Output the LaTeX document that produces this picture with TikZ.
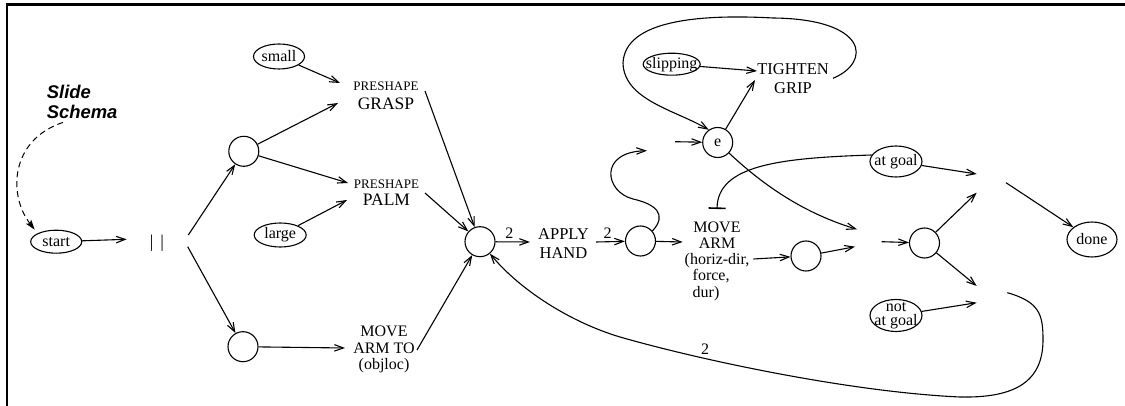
\documentclass[tikz,border=0pt]{standalone}
\usepackage{fontspec}
\setmainfont{Liberation Serif}
\newfontfamily\headfont{Liberation Sans}
\usetikzlibrary{arrows.meta,calc,shapes.geometric}

\tikzset{
  wire/.style={line width=1.1pt},
  arr/.style={wire,-{Straight Barb[length=9pt,width=6.5pt]}},
  inhibit/.style={wire,-{Bar[width=17pt,line width=1.6pt]}},
  hint/.style={line width=1pt,dash pattern=on 6pt off 4pt,
    -{Stealth[length=10pt,width=6.5pt,inset=2pt]}},
  state/.style={draw,line width=1.1pt,circle,minimum size=30pt,inner sep=0pt,
    font=\fontsize{16}{16}\selectfont},
  cond/.style={draw,line width=1.1pt,ellipse,inner sep=-30pt,align=center,
    font=\fontsize{16}{14.5}\selectfont},
  act/.style={align=center,inner sep=0pt},
  num/.style={inner sep=0pt,font=\fontsize{16}{16}\selectfont},
}

\begin{document}
\begin{tikzpicture}[x=1pt,y=-1pt]
\useasboundingbox (0,0) rectangle (1125,406);

% frame (top and left edges)
\draw[line width=2.5pt] (7,406) -- (7,4.7) -- (1125,4.7);

% title
\node[anchor=north west,inner sep=0pt,align=left,
      font=\headfont\bfseries\itshape\fontsize{18.4}{20}\selectfont]
      (slide) at (46.7,85) {Slide\\Schema};

% condition ellipses
\node[cond,minimum width=51pt,minimum height=23pt] (start)   at (56.2,241.7) {start};
\node[cond,minimum width=51pt,minimum height=25pt] (small)   at (279,56.5)   {small};
\node[cond,minimum width=52pt,minimum height=24pt] (large)   at (280.2,235)  {large};
\node[cond,minimum width=57pt,minimum height=22pt] (slip)    at (671.7,64.2) {slipping};
\node[cond,minimum width=52pt,minimum height=31pt] (atgoal)  at (896,161.5)  {at goal};
\node[cond,minimum width=52pt,minimum height=32pt] (notgoal) at (896,315.5)  {not\\at goal};
\node[cond,minimum width=50pt,minimum height=35pt] (done)    at (1092,239.5) {done};

% parallel split
\node[inner sep=0pt,font=\fontsize{18}{18}\selectfont] (par) at (157,243.5) {|\kern7pt|};

% state circles
\node[state] (c1)  at (243.8,151.3) {};
\node[state] (c2)  at (243,346.7)   {};
\node[state] (hub) at (480,241.7)   {};
\node[state] (c3)  at (640.5,241)   {};
\node[state] (e)   at (717.7,142.5) {e};
\node[state] (c4)  at (806,256)     {};
\node[state] (c5)  at (924.5,243)   {};

% actions
\node[act,font=\fontsize{17.5}{18.5}\selectfont] (pg) at (386,96)
  {{\fontsize{13}{14}\selectfont PRESHAPE}\\GRASP};
\node[act,font=\fontsize{17.5}{17.2}\selectfont] (pp) at (386.5,192.6)
  {{\fontsize{13}{14}\selectfont PRESHAPE}\\PALM};
\node[act,font=\fontsize{16}{16.5}\selectfont] (mat) at (384,349.6)
  {MOVE\\ARM TO\\(objloc)};
\node[act,font=\fontsize{16.5}{18.5}\selectfont] (ah) at (563.5,243.7)
  {APPLY\\HAND};
\node[act,font=\fontsize{16.5}{18.3}\selectfont] (tg) at (793,78.7)
  {TIGHTEN\\GRIP};
\node[inner sep=0pt,font=\fontsize{16}{16.25}\selectfont] (mvarm) at (717,261.5)
  {\begin{tabular}{@{}l@{}}
   \multicolumn{1}{@{}c@{}}{MOVE}\\
   \multicolumn{1}{@{}c@{}}{ARM}\\
   (horiz-dir,\\
   \hspace*{8pt}force,\\
   \hspace*{8pt}dur)
   \end{tabular}};

% junction points
\coordinate (j1) at (661,146);
\coordinate (j2) at (869,240);
\coordinate (j3) at (990.5,183);
\coordinate (j4) at (992,294);

% dashed pointer from the title
\draw[hint] ($(slide.south west)+(16.3,3.5)$)
  .. controls (10,140) and (8,195) .. ($(start)+(-21.5,-12)$);

% left part
\draw[arr] (start) -- ($(par)+(-30.3,-4.2)$);
\draw[arr] ($(par)+(31.3,-8.5)$) -- (c1);
\draw[arr] ($(par)+(30.7,3.2)$) -- (c2);
\draw[arr] (small) -- ($(pg)+(-46,-13)$);
\draw[arr] (c1) -- ($(pg)+(-48,7)$);
\draw[arr] (c1) -- ($(pp)+(-38.5,-9.6)$);
\draw[arr] (large) -- ($(pp)+(-39.5,7.4)$);
\draw[arr] (c2) -- ($(mat)+(-39,-1.6)$);
\draw[arr] ($(pg)+(39,-5)$) -- (hub);
\draw[arr] ($(pp)+(38.5,0.4)$) -- (hub);
\draw[arr] ($(mat)+(33,0.4)$) -- (hub);

% main chain
\draw[arr] (hub) -- node[num,pos=0.4,above=3pt] (n1) {2} ($(ah)+(-33.5,-1.7)$);
\draw[arr] ($(ah)+(32.5,-1.7)$) -- node[num,pos=0.4,above=3pt] (n2) {2} (c3);
\draw[arr] (c3) -- ($(mvarm)+(-34.3,-19.5)$);
\draw[arr] (c3.40) .. controls (668,214) and (655,204) .. (633,199)
  .. controls (605,192) and (598,152) .. ($(j1)+(-14,4.7)$);
\draw[arr] ($(j1)+(14,-4.3)$) -- (e);

% grip tightening loop
\draw[arr] (slip) -- ($(tg)+(-36,-7.7)$);
\draw[arr] (e) -- ($(tg)+(-38,1.3)$);
\draw[arr] ($(tg)+(40,-0.4)$) .. controls (872,62) and (868,19) .. (773,18)
  .. controls (700,14) and (625,20) .. (623,63)
  .. controls (624,100) and (675,110) .. (e.125);

% goal test
\draw[inhibit] (atgoal.165) .. controls (780,158) and (718,165) .. ($(mvarm)+(0,-52.5)$);
\draw[arr] ($(mvarm)+(36.3,-2.5)$) -- (c4);
\draw[arr] (e) .. controls (760,182) and (800,212) .. ($(j2)+(-12,-10.7)$);
\draw[arr] (c4) -- ($(j2)+(-14,6.7)$);
\draw[arr] ($(j2)+(12.7,1.7)$) -- (c5);
\draw[arr] (c5) -- ($(j3)+(-13.8,9.7)$);
\draw[arr] (atgoal) -- ($(j3)+(-13.8,-9)$);
\draw[arr] ($(j3)+(15.5,-0.3)$) -- (done);
\draw[arr] (c5) -- ($(j4)+(-15.3,-8)$);
\draw[arr] (notgoal) -- ($(j4)+(-15.3,8.7)$);
\draw[arr] ($(j4)+(15.3,-1.3)$) .. controls (1040,302) and (1043,315) .. (1043,340)
  .. controls (1043,385) and (1010,398) .. (960,397)
  .. controls (850,392) and (700,360) .. (620,337)
  .. controls (570,322) and (520,290) .. (hub);
\node[num] (n3) at (705,349) {2};
\end{tikzpicture}
\end{document}
